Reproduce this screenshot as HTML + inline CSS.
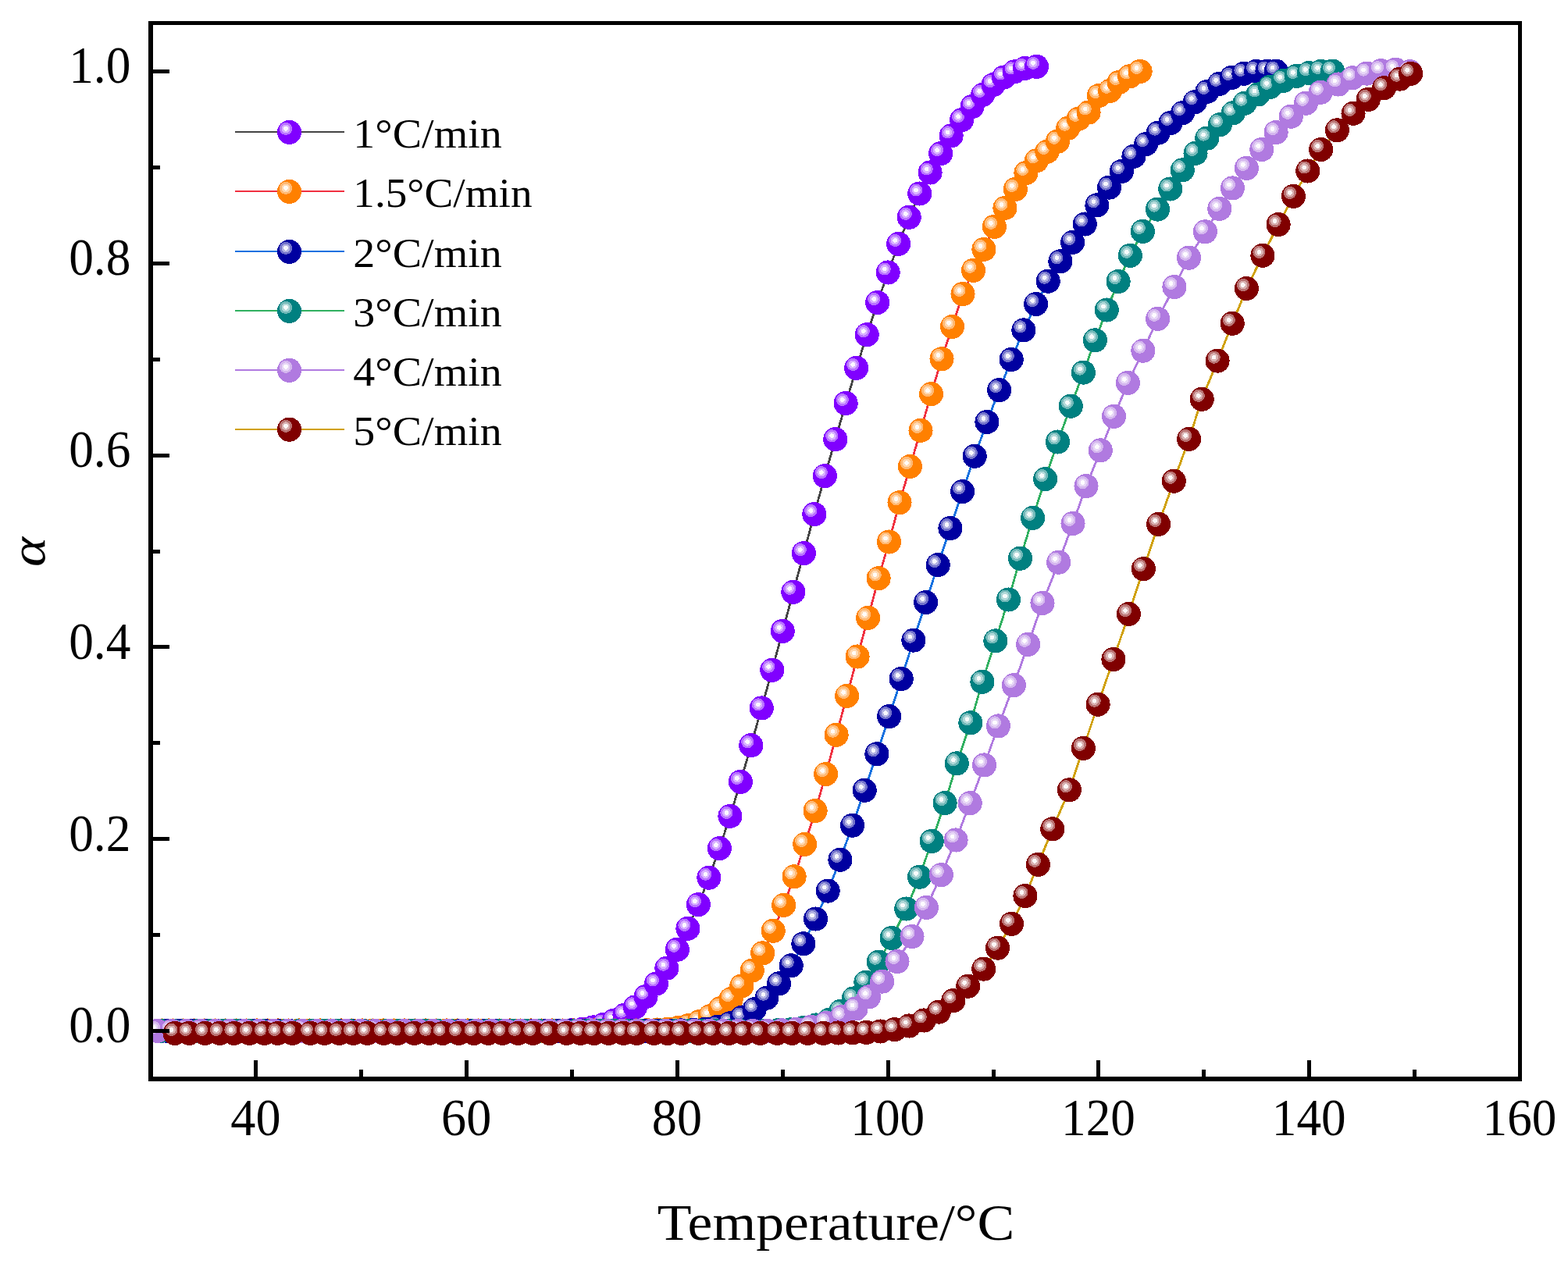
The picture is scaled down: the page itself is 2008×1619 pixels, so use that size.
<!DOCTYPE html>
<html lang="en"><head><meta charset="utf-8"><title>α vs Temperature</title>
<style>html,body{margin:0;padding:0;background:#fff}body{width:2008px;height:1619px;overflow:hidden}svg{display:block}text{font-family:"Liberation Serif","DejaVu Serif",serif;fill:#000}</style></head><body>
<svg width="2008" height="1619" viewBox="0 0 2008 1619">
<rect x="0" y="0" width="2008" height="1619" fill="#fff"/>
<defs>
<radialGradient id="g0" cx="0.3553" cy="0.3553" fx="0.3553" fy="0.3553" r="1"><stop offset="0" stop-color="#fbf7ff"/><stop offset="0.0932" stop-color="#fbf7ff"/><stop offset="0.0932" stop-color="#d9b2ff"/><stop offset="0.1736" stop-color="#d9b2ff"/><stop offset="0.1736" stop-color="#b973ff"/><stop offset="0.2572" stop-color="#b973ff"/><stop offset="0.2572" stop-color="#8000ff"/><stop offset="1" stop-color="#8000ff"/></radialGradient>
<radialGradient id="g1" cx="0.3553" cy="0.3553" fx="0.3553" fy="0.3553" r="1"><stop offset="0" stop-color="#fffbf7"/><stop offset="0.0932" stop-color="#fffbf7"/><stop offset="0.0932" stop-color="#ffd9b2"/><stop offset="0.1736" stop-color="#ffd9b2"/><stop offset="0.1736" stop-color="#ffb973"/><stop offset="0.2572" stop-color="#ffb973"/><stop offset="0.2572" stop-color="#ff8000"/><stop offset="1" stop-color="#ff8000"/></radialGradient>
<radialGradient id="g2" cx="0.3553" cy="0.3553" fx="0.3553" fy="0.3553" r="1"><stop offset="0" stop-color="#f7f7fc"/><stop offset="0.0932" stop-color="#f7f7fc"/><stop offset="0.0932" stop-color="#b2b2e2"/><stop offset="0.1736" stop-color="#b2b2e2"/><stop offset="0.1736" stop-color="#7373cb"/><stop offset="0.2572" stop-color="#7373cb"/><stop offset="0.2572" stop-color="#0000a0"/><stop offset="1" stop-color="#0000a0"/></radialGradient>
<radialGradient id="g3" cx="0.3553" cy="0.3553" fx="0.3553" fy="0.3553" r="1"><stop offset="0" stop-color="#f7fbfb"/><stop offset="0.0932" stop-color="#f7fbfb"/><stop offset="0.0932" stop-color="#b2d9d9"/><stop offset="0.1736" stop-color="#b2d9d9"/><stop offset="0.1736" stop-color="#73b9b9"/><stop offset="0.2572" stop-color="#73b9b9"/><stop offset="0.2572" stop-color="#008080"/><stop offset="1" stop-color="#008080"/></radialGradient>
<radialGradient id="g4" cx="0.3553" cy="0.3553" fx="0.3553" fy="0.3553" r="1"><stop offset="0" stop-color="#fdfbfe"/><stop offset="0.0932" stop-color="#fdfbfe"/><stop offset="0.0932" stop-color="#e7d7f6"/><stop offset="0.1736" stop-color="#e7d7f6"/><stop offset="0.1736" stop-color="#d4b6ee"/><stop offset="0.2572" stop-color="#d4b6ee"/><stop offset="0.2572" stop-color="#b07ae0"/><stop offset="1" stop-color="#b07ae0"/></radialGradient>
<radialGradient id="g5" cx="0.3553" cy="0.3553" fx="0.3553" fy="0.3553" r="1"><stop offset="0" stop-color="#fbf7f7"/><stop offset="0.0932" stop-color="#fbf7f7"/><stop offset="0.0932" stop-color="#d9b2b2"/><stop offset="0.1736" stop-color="#d9b2b2"/><stop offset="0.1736" stop-color="#b97373"/><stop offset="0.2572" stop-color="#b97373"/><stop offset="0.2572" stop-color="#800000"/><stop offset="1" stop-color="#800000"/></radialGradient>
<clipPath id="plot"><rect x="193" y="30" width="1753.5" height="1352"/></clipPath>
</defs>
<g clip-path="url(#plot)" shape-rendering="crispEdges">
<g>
<polyline fill="none" stroke="#444444" stroke-width="2.8" points="206.5,1320.4 220.0,1320.4 233.5,1320.4 247.0,1320.4 260.4,1320.4 273.9,1320.4 287.4,1320.4 300.9,1320.4 314.4,1320.4 327.9,1320.4 341.4,1320.4 354.9,1320.4 368.4,1320.4 381.8,1320.4 395.3,1320.4 408.8,1320.4 422.3,1320.4 435.8,1320.4 449.3,1320.4 462.8,1320.4 476.3,1320.4 489.7,1320.4 503.2,1320.4 516.7,1320.4 530.2,1320.4 543.7,1320.4 557.2,1320.4 570.7,1320.4 584.2,1320.4 597.7,1320.4 611.1,1320.4 624.6,1320.4 638.1,1320.4 651.6,1320.4 665.1,1320.4 678.6,1320.4 692.1,1320.4 705.6,1320.4 719.1,1320.2 732.5,1319.6 746.0,1318.3 759.5,1315.9 773.0,1312.3 786.5,1307.0 800.0,1300.1 813.5,1289.9 827.0,1276.5 840.4,1260.0 853.9,1240.1 867.4,1216.2 880.9,1189.3 894.4,1158.6 907.9,1124.2 921.4,1086.7 934.9,1045.4 948.4,1001.4 961.8,954.7 975.3,906.9 988.8,858.3 1002.3,808.3 1015.8,758.3 1029.3,708.6 1042.8,658.6 1056.3,609.6 1069.8,562.7 1083.2,516.5 1096.7,471.4 1110.2,428.7 1123.7,387.5 1137.2,349.0 1150.7,312.4 1164.2,278.3 1177.7,248.0 1191.1,221.0 1204.6,196.7 1218.1,173.9 1231.6,153.7 1245.1,136.5 1258.6,121.4 1272.1,108.6 1285.6,99.0 1299.1,91.9 1312.5,87.4 1327.5,85.3"/>
<g fill="url(#g0)">
<circle cx="206.5" cy="1320.4" r="15.55"/>
<circle cx="220.0" cy="1320.4" r="15.55"/>
<circle cx="233.5" cy="1320.4" r="15.55"/>
<circle cx="247.0" cy="1320.4" r="15.55"/>
<circle cx="260.4" cy="1320.4" r="15.55"/>
<circle cx="273.9" cy="1320.4" r="15.55"/>
<circle cx="287.4" cy="1320.4" r="15.55"/>
<circle cx="300.9" cy="1320.4" r="15.55"/>
<circle cx="314.4" cy="1320.4" r="15.55"/>
<circle cx="327.9" cy="1320.4" r="15.55"/>
<circle cx="341.4" cy="1320.4" r="15.55"/>
<circle cx="354.9" cy="1320.4" r="15.55"/>
<circle cx="368.4" cy="1320.4" r="15.55"/>
<circle cx="381.8" cy="1320.4" r="15.55"/>
<circle cx="395.3" cy="1320.4" r="15.55"/>
<circle cx="408.8" cy="1320.4" r="15.55"/>
<circle cx="422.3" cy="1320.4" r="15.55"/>
<circle cx="435.8" cy="1320.4" r="15.55"/>
<circle cx="449.3" cy="1320.4" r="15.55"/>
<circle cx="462.8" cy="1320.4" r="15.55"/>
<circle cx="476.3" cy="1320.4" r="15.55"/>
<circle cx="489.7" cy="1320.4" r="15.55"/>
<circle cx="503.2" cy="1320.4" r="15.55"/>
<circle cx="516.7" cy="1320.4" r="15.55"/>
<circle cx="530.2" cy="1320.4" r="15.55"/>
<circle cx="543.7" cy="1320.4" r="15.55"/>
<circle cx="557.2" cy="1320.4" r="15.55"/>
<circle cx="570.7" cy="1320.4" r="15.55"/>
<circle cx="584.2" cy="1320.4" r="15.55"/>
<circle cx="597.7" cy="1320.4" r="15.55"/>
<circle cx="611.1" cy="1320.4" r="15.55"/>
<circle cx="624.6" cy="1320.4" r="15.55"/>
<circle cx="638.1" cy="1320.4" r="15.55"/>
<circle cx="651.6" cy="1320.4" r="15.55"/>
<circle cx="665.1" cy="1320.4" r="15.55"/>
<circle cx="678.6" cy="1320.4" r="15.55"/>
<circle cx="692.1" cy="1320.4" r="15.55"/>
<circle cx="705.6" cy="1320.4" r="15.55"/>
<circle cx="719.1" cy="1320.2" r="15.55"/>
<circle cx="732.5" cy="1319.6" r="15.55"/>
<circle cx="746.0" cy="1318.3" r="15.55"/>
<circle cx="759.5" cy="1315.9" r="15.55"/>
<circle cx="773.0" cy="1312.3" r="15.55"/>
<circle cx="786.5" cy="1307.0" r="15.55"/>
<circle cx="800.0" cy="1300.1" r="15.55"/>
<circle cx="813.5" cy="1289.9" r="15.55"/>
<circle cx="827.0" cy="1276.5" r="15.55"/>
<circle cx="840.4" cy="1260.0" r="15.55"/>
<circle cx="853.9" cy="1240.1" r="15.55"/>
<circle cx="867.4" cy="1216.2" r="15.55"/>
<circle cx="880.9" cy="1189.3" r="15.55"/>
<circle cx="894.4" cy="1158.6" r="15.55"/>
<circle cx="907.9" cy="1124.2" r="15.55"/>
<circle cx="921.4" cy="1086.7" r="15.55"/>
<circle cx="934.9" cy="1045.4" r="15.55"/>
<circle cx="948.4" cy="1001.4" r="15.55"/>
<circle cx="961.8" cy="954.7" r="15.55"/>
<circle cx="975.3" cy="906.9" r="15.55"/>
<circle cx="988.8" cy="858.3" r="15.55"/>
<circle cx="1002.3" cy="808.3" r="15.55"/>
<circle cx="1015.8" cy="758.3" r="15.55"/>
<circle cx="1029.3" cy="708.6" r="15.55"/>
<circle cx="1042.8" cy="658.6" r="15.55"/>
<circle cx="1056.3" cy="609.6" r="15.55"/>
<circle cx="1069.8" cy="562.7" r="15.55"/>
<circle cx="1083.2" cy="516.5" r="15.55"/>
<circle cx="1096.7" cy="471.4" r="15.55"/>
<circle cx="1110.2" cy="428.7" r="15.55"/>
<circle cx="1123.7" cy="387.5" r="15.55"/>
<circle cx="1137.2" cy="349.0" r="15.55"/>
<circle cx="1150.7" cy="312.4" r="15.55"/>
<circle cx="1164.2" cy="278.3" r="15.55"/>
<circle cx="1177.7" cy="248.0" r="15.55"/>
<circle cx="1191.1" cy="221.0" r="15.55"/>
<circle cx="1204.6" cy="196.7" r="15.55"/>
<circle cx="1218.1" cy="173.9" r="15.55"/>
<circle cx="1231.6" cy="153.7" r="15.55"/>
<circle cx="1245.1" cy="136.5" r="15.55"/>
<circle cx="1258.6" cy="121.4" r="15.55"/>
<circle cx="1272.1" cy="108.6" r="15.55"/>
<circle cx="1285.6" cy="99.0" r="15.55"/>
<circle cx="1299.1" cy="91.9" r="15.55"/>
<circle cx="1312.5" cy="87.4" r="15.55"/>
<circle cx="1327.5" cy="85.3" r="15.55"/>
</g></g>
<g>
<polyline fill="none" stroke="#f03040" stroke-width="2.8" points="207.8,1320.0 221.3,1320.0 234.8,1320.0 248.3,1320.0 261.8,1320.0 275.3,1320.0 288.8,1320.0 302.3,1320.0 315.7,1320.0 329.2,1320.0 342.7,1320.0 356.2,1320.0 369.7,1320.0 383.2,1320.0 396.7,1320.0 410.2,1320.0 423.7,1320.0 437.1,1320.0 450.6,1320.0 464.1,1320.0 477.6,1320.0 491.1,1320.0 504.6,1320.0 518.1,1320.0 531.6,1320.0 545.0,1320.0 558.5,1320.0 572.0,1320.0 585.5,1320.0 599.0,1320.0 612.5,1320.0 626.0,1320.0 639.5,1320.0 653.0,1320.0 666.4,1320.0 679.9,1320.0 693.4,1320.0 706.9,1320.0 720.4,1320.0 733.9,1320.0 747.4,1320.0 760.9,1320.0 774.4,1320.0 787.8,1320.0 801.3,1320.0 814.8,1320.0 828.3,1319.6 841.8,1319.0 855.3,1318.2 868.8,1316.4 882.3,1313.3 895.8,1308.5 909.2,1301.7 922.7,1291.6 936.2,1279.6 949.7,1263.0 963.2,1243.1 976.7,1220.8 990.2,1192.3 1003.7,1159.4 1017.1,1122.8 1030.6,1081.4 1044.1,1038.5 1057.6,991.5 1071.1,941.2 1084.6,891.4 1098.1,841.0 1111.6,791.4 1125.1,740.8 1138.5,694.0 1152.0,643.7 1165.5,597.5 1179.0,551.3 1192.5,504.6 1206.0,459.7 1219.5,418.4 1233.0,376.5 1246.5,346.3 1259.9,319.4 1273.4,290.3 1286.9,266.4 1300.4,242.4 1313.9,221.5 1327.4,205.8 1340.9,194.3 1354.4,181.2 1367.8,164.2 1381.3,152.2 1394.1,144.0 1407.3,122.5 1421.6,116.3 1433.1,105.4 1446.6,97.8 1460.1,91.4"/>
<g fill="url(#g1)">
<circle cx="207.8" cy="1320.0" r="15.55"/>
<circle cx="221.3" cy="1320.0" r="15.55"/>
<circle cx="234.8" cy="1320.0" r="15.55"/>
<circle cx="248.3" cy="1320.0" r="15.55"/>
<circle cx="261.8" cy="1320.0" r="15.55"/>
<circle cx="275.3" cy="1320.0" r="15.55"/>
<circle cx="288.8" cy="1320.0" r="15.55"/>
<circle cx="302.3" cy="1320.0" r="15.55"/>
<circle cx="315.7" cy="1320.0" r="15.55"/>
<circle cx="329.2" cy="1320.0" r="15.55"/>
<circle cx="342.7" cy="1320.0" r="15.55"/>
<circle cx="356.2" cy="1320.0" r="15.55"/>
<circle cx="369.7" cy="1320.0" r="15.55"/>
<circle cx="383.2" cy="1320.0" r="15.55"/>
<circle cx="396.7" cy="1320.0" r="15.55"/>
<circle cx="410.2" cy="1320.0" r="15.55"/>
<circle cx="423.7" cy="1320.0" r="15.55"/>
<circle cx="437.1" cy="1320.0" r="15.55"/>
<circle cx="450.6" cy="1320.0" r="15.55"/>
<circle cx="464.1" cy="1320.0" r="15.55"/>
<circle cx="477.6" cy="1320.0" r="15.55"/>
<circle cx="491.1" cy="1320.0" r="15.55"/>
<circle cx="504.6" cy="1320.0" r="15.55"/>
<circle cx="518.1" cy="1320.0" r="15.55"/>
<circle cx="531.6" cy="1320.0" r="15.55"/>
<circle cx="545.0" cy="1320.0" r="15.55"/>
<circle cx="558.5" cy="1320.0" r="15.55"/>
<circle cx="572.0" cy="1320.0" r="15.55"/>
<circle cx="585.5" cy="1320.0" r="15.55"/>
<circle cx="599.0" cy="1320.0" r="15.55"/>
<circle cx="612.5" cy="1320.0" r="15.55"/>
<circle cx="626.0" cy="1320.0" r="15.55"/>
<circle cx="639.5" cy="1320.0" r="15.55"/>
<circle cx="653.0" cy="1320.0" r="15.55"/>
<circle cx="666.4" cy="1320.0" r="15.55"/>
<circle cx="679.9" cy="1320.0" r="15.55"/>
<circle cx="693.4" cy="1320.0" r="15.55"/>
<circle cx="706.9" cy="1320.0" r="15.55"/>
<circle cx="720.4" cy="1320.0" r="15.55"/>
<circle cx="733.9" cy="1320.0" r="15.55"/>
<circle cx="747.4" cy="1320.0" r="15.55"/>
<circle cx="760.9" cy="1320.0" r="15.55"/>
<circle cx="774.4" cy="1320.0" r="15.55"/>
<circle cx="787.8" cy="1320.0" r="15.55"/>
<circle cx="801.3" cy="1320.0" r="15.55"/>
<circle cx="814.8" cy="1320.0" r="15.55"/>
<circle cx="828.3" cy="1319.6" r="15.55"/>
<circle cx="841.8" cy="1319.0" r="15.55"/>
<circle cx="855.3" cy="1318.2" r="15.55"/>
<circle cx="868.8" cy="1316.4" r="15.55"/>
<circle cx="882.3" cy="1313.3" r="15.55"/>
<circle cx="895.8" cy="1308.5" r="15.55"/>
<circle cx="909.2" cy="1301.7" r="15.55"/>
<circle cx="922.7" cy="1291.6" r="15.55"/>
<circle cx="936.2" cy="1279.6" r="15.55"/>
<circle cx="949.7" cy="1263.0" r="15.55"/>
<circle cx="963.2" cy="1243.1" r="15.55"/>
<circle cx="976.7" cy="1220.8" r="15.55"/>
<circle cx="990.2" cy="1192.3" r="15.55"/>
<circle cx="1003.7" cy="1159.4" r="15.55"/>
<circle cx="1017.1" cy="1122.8" r="15.55"/>
<circle cx="1030.6" cy="1081.4" r="15.55"/>
<circle cx="1044.1" cy="1038.5" r="15.55"/>
<circle cx="1057.6" cy="991.5" r="15.55"/>
<circle cx="1071.1" cy="941.2" r="15.55"/>
<circle cx="1084.6" cy="891.4" r="15.55"/>
<circle cx="1098.1" cy="841.0" r="15.55"/>
<circle cx="1111.6" cy="791.4" r="15.55"/>
<circle cx="1125.1" cy="740.8" r="15.55"/>
<circle cx="1138.5" cy="694.0" r="15.55"/>
<circle cx="1152.0" cy="643.7" r="15.55"/>
<circle cx="1165.5" cy="597.5" r="15.55"/>
<circle cx="1179.0" cy="551.3" r="15.55"/>
<circle cx="1192.5" cy="504.6" r="15.55"/>
<circle cx="1206.0" cy="459.7" r="15.55"/>
<circle cx="1219.5" cy="418.4" r="15.55"/>
<circle cx="1233.0" cy="376.5" r="15.55"/>
<circle cx="1246.5" cy="346.3" r="15.55"/>
<circle cx="1259.9" cy="319.4" r="15.55"/>
<circle cx="1273.4" cy="290.3" r="15.55"/>
<circle cx="1286.9" cy="266.4" r="15.55"/>
<circle cx="1300.4" cy="242.4" r="15.55"/>
<circle cx="1313.9" cy="221.5" r="15.55"/>
<circle cx="1327.4" cy="205.8" r="15.55"/>
<circle cx="1340.9" cy="194.3" r="15.55"/>
<circle cx="1354.4" cy="181.2" r="15.55"/>
<circle cx="1367.8" cy="164.2" r="15.55"/>
<circle cx="1381.3" cy="152.2" r="15.55"/>
<circle cx="1394.1" cy="144.0" r="15.55"/>
<circle cx="1407.3" cy="122.5" r="15.55"/>
<circle cx="1421.6" cy="116.3" r="15.55"/>
<circle cx="1433.1" cy="105.4" r="15.55"/>
<circle cx="1446.6" cy="97.8" r="15.55"/>
<circle cx="1460.1" cy="91.4" r="15.55"/>
</g></g>
<g>
<polyline fill="none" stroke="#1070e0" stroke-width="2.8" points="214.2,1320.3 229.8,1320.3 245.5,1320.3 261.2,1320.3 276.8,1320.3 292.5,1320.3 308.2,1320.3 323.8,1320.3 339.5,1320.3 355.2,1320.3 370.8,1320.3 386.5,1320.3 402.2,1320.3 417.8,1320.3 433.5,1320.3 449.2,1320.3 464.8,1320.3 480.5,1320.3 496.2,1320.3 511.8,1320.3 527.5,1320.3 543.2,1320.3 558.8,1320.3 574.5,1320.3 590.2,1320.3 605.9,1320.3 621.5,1320.3 637.2,1320.3 652.9,1320.3 668.5,1320.3 684.2,1320.3 699.9,1320.3 715.5,1320.3 731.2,1320.3 746.9,1320.3 762.5,1320.3 778.2,1320.3 793.9,1320.3 809.5,1320.3 825.2,1320.3 840.9,1320.3 856.5,1320.2 872.2,1319.9 887.9,1319.3 903.5,1318.1 919.2,1315.1 934.9,1310.7 950.5,1303.0 966.2,1292.8 981.9,1278.2 997.6,1259.8 1013.2,1236.8 1028.9,1208.8 1044.6,1177.0 1060.2,1141.1 1075.9,1101.3 1091.6,1057.2 1107.2,1012.3 1122.9,965.7 1138.6,917.7 1154.2,869.5 1169.9,820.1 1185.6,771.5 1201.2,723.6 1216.9,676.6 1232.6,629.6 1248.2,584.3 1263.9,540.5 1279.6,499.7 1295.2,460.5 1310.9,422.9 1326.6,389.5 1342.2,360.2 1357.9,334.7 1373.6,310.4 1389.3,287.0 1404.9,262.8 1420.6,240.1 1436.3,219.5 1451.9,200.3 1467.6,184.5 1483.3,170.1 1498.9,157.5 1514.6,144.5 1530.3,130.6 1545.9,117.4 1561.6,107.3 1577.3,99.4 1592.9,94.3 1608.6,91.4 1623.0,91.1 1634.1,91.1"/>
<g fill="url(#g2)">
<circle cx="214.2" cy="1320.3" r="15.55"/>
<circle cx="229.8" cy="1320.3" r="15.55"/>
<circle cx="245.5" cy="1320.3" r="15.55"/>
<circle cx="261.2" cy="1320.3" r="15.55"/>
<circle cx="276.8" cy="1320.3" r="15.55"/>
<circle cx="292.5" cy="1320.3" r="15.55"/>
<circle cx="308.2" cy="1320.3" r="15.55"/>
<circle cx="323.8" cy="1320.3" r="15.55"/>
<circle cx="339.5" cy="1320.3" r="15.55"/>
<circle cx="355.2" cy="1320.3" r="15.55"/>
<circle cx="370.8" cy="1320.3" r="15.55"/>
<circle cx="386.5" cy="1320.3" r="15.55"/>
<circle cx="402.2" cy="1320.3" r="15.55"/>
<circle cx="417.8" cy="1320.3" r="15.55"/>
<circle cx="433.5" cy="1320.3" r="15.55"/>
<circle cx="449.2" cy="1320.3" r="15.55"/>
<circle cx="464.8" cy="1320.3" r="15.55"/>
<circle cx="480.5" cy="1320.3" r="15.55"/>
<circle cx="496.2" cy="1320.3" r="15.55"/>
<circle cx="511.8" cy="1320.3" r="15.55"/>
<circle cx="527.5" cy="1320.3" r="15.55"/>
<circle cx="543.2" cy="1320.3" r="15.55"/>
<circle cx="558.8" cy="1320.3" r="15.55"/>
<circle cx="574.5" cy="1320.3" r="15.55"/>
<circle cx="590.2" cy="1320.3" r="15.55"/>
<circle cx="605.9" cy="1320.3" r="15.55"/>
<circle cx="621.5" cy="1320.3" r="15.55"/>
<circle cx="637.2" cy="1320.3" r="15.55"/>
<circle cx="652.9" cy="1320.3" r="15.55"/>
<circle cx="668.5" cy="1320.3" r="15.55"/>
<circle cx="684.2" cy="1320.3" r="15.55"/>
<circle cx="699.9" cy="1320.3" r="15.55"/>
<circle cx="715.5" cy="1320.3" r="15.55"/>
<circle cx="731.2" cy="1320.3" r="15.55"/>
<circle cx="746.9" cy="1320.3" r="15.55"/>
<circle cx="762.5" cy="1320.3" r="15.55"/>
<circle cx="778.2" cy="1320.3" r="15.55"/>
<circle cx="793.9" cy="1320.3" r="15.55"/>
<circle cx="809.5" cy="1320.3" r="15.55"/>
<circle cx="825.2" cy="1320.3" r="15.55"/>
<circle cx="840.9" cy="1320.3" r="15.55"/>
<circle cx="856.5" cy="1320.2" r="15.55"/>
<circle cx="872.2" cy="1319.9" r="15.55"/>
<circle cx="887.9" cy="1319.3" r="15.55"/>
<circle cx="903.5" cy="1318.1" r="15.55"/>
<circle cx="919.2" cy="1315.1" r="15.55"/>
<circle cx="934.9" cy="1310.7" r="15.55"/>
<circle cx="950.5" cy="1303.0" r="15.55"/>
<circle cx="966.2" cy="1292.8" r="15.55"/>
<circle cx="981.9" cy="1278.2" r="15.55"/>
<circle cx="997.6" cy="1259.8" r="15.55"/>
<circle cx="1013.2" cy="1236.8" r="15.55"/>
<circle cx="1028.9" cy="1208.8" r="15.55"/>
<circle cx="1044.6" cy="1177.0" r="15.55"/>
<circle cx="1060.2" cy="1141.1" r="15.55"/>
<circle cx="1075.9" cy="1101.3" r="15.55"/>
<circle cx="1091.6" cy="1057.2" r="15.55"/>
<circle cx="1107.2" cy="1012.3" r="15.55"/>
<circle cx="1122.9" cy="965.7" r="15.55"/>
<circle cx="1138.6" cy="917.7" r="15.55"/>
<circle cx="1154.2" cy="869.5" r="15.55"/>
<circle cx="1169.9" cy="820.1" r="15.55"/>
<circle cx="1185.6" cy="771.5" r="15.55"/>
<circle cx="1201.2" cy="723.6" r="15.55"/>
<circle cx="1216.9" cy="676.6" r="15.55"/>
<circle cx="1232.6" cy="629.6" r="15.55"/>
<circle cx="1248.2" cy="584.3" r="15.55"/>
<circle cx="1263.9" cy="540.5" r="15.55"/>
<circle cx="1279.6" cy="499.7" r="15.55"/>
<circle cx="1295.2" cy="460.5" r="15.55"/>
<circle cx="1310.9" cy="422.9" r="15.55"/>
<circle cx="1326.6" cy="389.5" r="15.55"/>
<circle cx="1342.2" cy="360.2" r="15.55"/>
<circle cx="1357.9" cy="334.7" r="15.55"/>
<circle cx="1373.6" cy="310.4" r="15.55"/>
<circle cx="1389.3" cy="287.0" r="15.55"/>
<circle cx="1404.9" cy="262.8" r="15.55"/>
<circle cx="1420.6" cy="240.1" r="15.55"/>
<circle cx="1436.3" cy="219.5" r="15.55"/>
<circle cx="1451.9" cy="200.3" r="15.55"/>
<circle cx="1467.6" cy="184.5" r="15.55"/>
<circle cx="1483.3" cy="170.1" r="15.55"/>
<circle cx="1498.9" cy="157.5" r="15.55"/>
<circle cx="1514.6" cy="144.5" r="15.55"/>
<circle cx="1530.3" cy="130.6" r="15.55"/>
<circle cx="1545.9" cy="117.4" r="15.55"/>
<circle cx="1561.6" cy="107.3" r="15.55"/>
<circle cx="1577.3" cy="99.4" r="15.55"/>
<circle cx="1592.9" cy="94.3" r="15.55"/>
<circle cx="1608.6" cy="91.4" r="15.55"/>
<circle cx="1623.0" cy="91.1" r="15.55"/>
<circle cx="1634.1" cy="91.1" r="15.55"/>
</g></g>
<g>
<polyline fill="none" stroke="#30b060" stroke-width="2.8" points="205.5,1320.4 221.6,1320.4 237.8,1320.4 253.9,1320.4 270.0,1320.4 286.2,1320.4 302.3,1320.4 318.4,1320.4 334.5,1320.4 350.7,1320.4 366.8,1320.4 382.9,1320.4 399.1,1320.4 415.2,1320.4 431.3,1320.4 447.5,1320.4 463.6,1320.4 479.7,1320.4 495.8,1320.4 512.0,1320.4 528.1,1320.4 544.2,1320.4 560.4,1320.4 576.5,1320.4 592.6,1320.4 608.8,1320.4 624.9,1320.4 641.0,1320.4 657.1,1320.4 673.3,1320.4 689.4,1320.4 705.5,1320.4 721.7,1320.4 737.8,1320.4 753.9,1320.4 770.0,1320.4 786.2,1320.4 802.3,1320.4 818.4,1320.4 834.6,1320.4 850.7,1320.4 866.8,1320.4 883.0,1320.4 899.1,1320.4 915.2,1320.4 931.4,1320.4 947.5,1320.4 963.6,1320.4 979.7,1320.2 995.9,1319.8 1012.0,1318.9 1028.6,1316.6 1045.2,1313.0 1061.8,1306.4 1076.7,1295.2 1093.1,1279.0 1108.9,1258.2 1125.2,1232.1 1142.1,1201.5 1160.7,1164.0 1177.6,1123.2 1193.2,1077.4 1210.1,1028.6 1225.3,977.8 1242.9,925.8 1257.9,873.3 1274.9,820.9 1291.4,768.0 1306.5,715.2 1322.6,663.4 1338.6,613.6 1354.5,566.0 1371.3,520.2 1387.4,477.1 1402.4,435.8 1417.3,397.0 1432.1,360.6 1447.3,327.3 1463.3,296.4 1482.5,268.1 1498.7,242.0 1514.3,217.8 1531.0,196.3 1545.7,177.1 1562.4,159.6 1579.2,144.8 1594.0,132.2 1611.0,121.0 1626.5,111.3 1643.7,103.3 1660.4,97.4 1676.4,93.5 1691.6,91.4 1706.5,91.2"/>
<g fill="url(#g3)">
<circle cx="205.5" cy="1320.4" r="15.55"/>
<circle cx="221.6" cy="1320.4" r="15.55"/>
<circle cx="237.8" cy="1320.4" r="15.55"/>
<circle cx="253.9" cy="1320.4" r="15.55"/>
<circle cx="270.0" cy="1320.4" r="15.55"/>
<circle cx="286.2" cy="1320.4" r="15.55"/>
<circle cx="302.3" cy="1320.4" r="15.55"/>
<circle cx="318.4" cy="1320.4" r="15.55"/>
<circle cx="334.5" cy="1320.4" r="15.55"/>
<circle cx="350.7" cy="1320.4" r="15.55"/>
<circle cx="366.8" cy="1320.4" r="15.55"/>
<circle cx="382.9" cy="1320.4" r="15.55"/>
<circle cx="399.1" cy="1320.4" r="15.55"/>
<circle cx="415.2" cy="1320.4" r="15.55"/>
<circle cx="431.3" cy="1320.4" r="15.55"/>
<circle cx="447.5" cy="1320.4" r="15.55"/>
<circle cx="463.6" cy="1320.4" r="15.55"/>
<circle cx="479.7" cy="1320.4" r="15.55"/>
<circle cx="495.8" cy="1320.4" r="15.55"/>
<circle cx="512.0" cy="1320.4" r="15.55"/>
<circle cx="528.1" cy="1320.4" r="15.55"/>
<circle cx="544.2" cy="1320.4" r="15.55"/>
<circle cx="560.4" cy="1320.4" r="15.55"/>
<circle cx="576.5" cy="1320.4" r="15.55"/>
<circle cx="592.6" cy="1320.4" r="15.55"/>
<circle cx="608.8" cy="1320.4" r="15.55"/>
<circle cx="624.9" cy="1320.4" r="15.55"/>
<circle cx="641.0" cy="1320.4" r="15.55"/>
<circle cx="657.1" cy="1320.4" r="15.55"/>
<circle cx="673.3" cy="1320.4" r="15.55"/>
<circle cx="689.4" cy="1320.4" r="15.55"/>
<circle cx="705.5" cy="1320.4" r="15.55"/>
<circle cx="721.7" cy="1320.4" r="15.55"/>
<circle cx="737.8" cy="1320.4" r="15.55"/>
<circle cx="753.9" cy="1320.4" r="15.55"/>
<circle cx="770.0" cy="1320.4" r="15.55"/>
<circle cx="786.2" cy="1320.4" r="15.55"/>
<circle cx="802.3" cy="1320.4" r="15.55"/>
<circle cx="818.4" cy="1320.4" r="15.55"/>
<circle cx="834.6" cy="1320.4" r="15.55"/>
<circle cx="850.7" cy="1320.4" r="15.55"/>
<circle cx="866.8" cy="1320.4" r="15.55"/>
<circle cx="883.0" cy="1320.4" r="15.55"/>
<circle cx="899.1" cy="1320.4" r="15.55"/>
<circle cx="915.2" cy="1320.4" r="15.55"/>
<circle cx="931.4" cy="1320.4" r="15.55"/>
<circle cx="947.5" cy="1320.4" r="15.55"/>
<circle cx="963.6" cy="1320.4" r="15.55"/>
<circle cx="979.7" cy="1320.2" r="15.55"/>
<circle cx="995.9" cy="1319.8" r="15.55"/>
<circle cx="1012.0" cy="1318.9" r="15.55"/>
<circle cx="1028.6" cy="1316.6" r="15.55"/>
<circle cx="1045.2" cy="1313.0" r="15.55"/>
<circle cx="1061.8" cy="1306.4" r="15.55"/>
<circle cx="1076.7" cy="1295.2" r="15.55"/>
<circle cx="1093.1" cy="1279.0" r="15.55"/>
<circle cx="1108.9" cy="1258.2" r="15.55"/>
<circle cx="1125.2" cy="1232.1" r="15.55"/>
<circle cx="1142.1" cy="1201.5" r="15.55"/>
<circle cx="1160.7" cy="1164.0" r="15.55"/>
<circle cx="1177.6" cy="1123.2" r="15.55"/>
<circle cx="1193.2" cy="1077.4" r="15.55"/>
<circle cx="1210.1" cy="1028.6" r="15.55"/>
<circle cx="1225.3" cy="977.8" r="15.55"/>
<circle cx="1242.9" cy="925.8" r="15.55"/>
<circle cx="1257.9" cy="873.3" r="15.55"/>
<circle cx="1274.9" cy="820.9" r="15.55"/>
<circle cx="1291.4" cy="768.0" r="15.55"/>
<circle cx="1306.5" cy="715.2" r="15.55"/>
<circle cx="1322.6" cy="663.4" r="15.55"/>
<circle cx="1338.6" cy="613.6" r="15.55"/>
<circle cx="1354.5" cy="566.0" r="15.55"/>
<circle cx="1371.3" cy="520.2" r="15.55"/>
<circle cx="1387.4" cy="477.1" r="15.55"/>
<circle cx="1402.4" cy="435.8" r="15.55"/>
<circle cx="1417.3" cy="397.0" r="15.55"/>
<circle cx="1432.1" cy="360.6" r="15.55"/>
<circle cx="1447.3" cy="327.3" r="15.55"/>
<circle cx="1463.3" cy="296.4" r="15.55"/>
<circle cx="1482.5" cy="268.1" r="15.55"/>
<circle cx="1498.7" cy="242.0" r="15.55"/>
<circle cx="1514.3" cy="217.8" r="15.55"/>
<circle cx="1531.0" cy="196.3" r="15.55"/>
<circle cx="1545.7" cy="177.1" r="15.55"/>
<circle cx="1562.4" cy="159.6" r="15.55"/>
<circle cx="1579.2" cy="144.8" r="15.55"/>
<circle cx="1594.0" cy="132.2" r="15.55"/>
<circle cx="1611.0" cy="121.0" r="15.55"/>
<circle cx="1626.5" cy="111.3" r="15.55"/>
<circle cx="1643.7" cy="103.3" r="15.55"/>
<circle cx="1660.4" cy="97.4" r="15.55"/>
<circle cx="1676.4" cy="93.5" r="15.55"/>
<circle cx="1691.6" cy="91.4" r="15.55"/>
<circle cx="1706.5" cy="91.2" r="15.55"/>
</g></g>
<g>
<polyline fill="none" stroke="#b07ae0" stroke-width="2.8" points="201.4,1320.4 220.0,1320.4 238.6,1320.4 257.2,1320.4 275.8,1320.4 294.4,1320.4 313.0,1320.4 331.6,1320.4 350.2,1320.4 368.8,1320.4 387.4,1320.4 406.0,1320.4 424.6,1320.4 443.2,1320.4 461.8,1320.4 480.4,1320.4 499.0,1320.4 517.6,1320.4 536.2,1320.4 554.8,1320.4 573.4,1320.4 592.0,1320.4 610.6,1320.4 629.2,1320.4 647.8,1320.4 666.4,1320.4 685.0,1320.4 703.6,1320.4 722.2,1320.4 740.8,1320.4 759.4,1320.4 778.0,1320.4 796.6,1320.4 815.2,1320.4 833.8,1320.4 852.4,1320.4 871.0,1320.4 889.6,1320.4 908.2,1320.4 926.8,1320.4 945.4,1320.4 964.0,1320.4 982.6,1320.3 1001.2,1319.8 1019.8,1318.3 1038.6,1315.3 1058.5,1310.3 1078.4,1302.3 1096.0,1292.0 1112.6,1276.8 1129.7,1257.2 1149.0,1231.5 1168.0,1199.5 1186.4,1162.4 1205.3,1120.6 1224.1,1076.0 1242.2,1028.7 1260.5,979.9 1278.4,929.9 1298.3,877.7 1316.6,825.3 1335.0,772.4 1355.7,720.2 1374.0,670.4 1391.0,622.6 1409.3,576.8 1426.5,533.3 1444.4,490.4 1463.9,449.2 1482.6,408.3 1503.9,367.5 1522.5,330.2 1543.4,296.8 1561.8,267.4 1578.4,240.9 1596.4,215.4 1615.8,191.5 1634.1,169.6 1653.3,149.2 1672.4,132.2 1691.2,118.3 1713.9,108.0 1732.2,99.8 1750.5,94.1 1768.5,90.6 1787.3,89.2 1805.7,91.7"/>
<g fill="url(#g4)">
<circle cx="201.4" cy="1320.4" r="15.55"/>
<circle cx="220.0" cy="1320.4" r="15.55"/>
<circle cx="238.6" cy="1320.4" r="15.55"/>
<circle cx="257.2" cy="1320.4" r="15.55"/>
<circle cx="275.8" cy="1320.4" r="15.55"/>
<circle cx="294.4" cy="1320.4" r="15.55"/>
<circle cx="313.0" cy="1320.4" r="15.55"/>
<circle cx="331.6" cy="1320.4" r="15.55"/>
<circle cx="350.2" cy="1320.4" r="15.55"/>
<circle cx="368.8" cy="1320.4" r="15.55"/>
<circle cx="387.4" cy="1320.4" r="15.55"/>
<circle cx="406.0" cy="1320.4" r="15.55"/>
<circle cx="424.6" cy="1320.4" r="15.55"/>
<circle cx="443.2" cy="1320.4" r="15.55"/>
<circle cx="461.8" cy="1320.4" r="15.55"/>
<circle cx="480.4" cy="1320.4" r="15.55"/>
<circle cx="499.0" cy="1320.4" r="15.55"/>
<circle cx="517.6" cy="1320.4" r="15.55"/>
<circle cx="536.2" cy="1320.4" r="15.55"/>
<circle cx="554.8" cy="1320.4" r="15.55"/>
<circle cx="573.4" cy="1320.4" r="15.55"/>
<circle cx="592.0" cy="1320.4" r="15.55"/>
<circle cx="610.6" cy="1320.4" r="15.55"/>
<circle cx="629.2" cy="1320.4" r="15.55"/>
<circle cx="647.8" cy="1320.4" r="15.55"/>
<circle cx="666.4" cy="1320.4" r="15.55"/>
<circle cx="685.0" cy="1320.4" r="15.55"/>
<circle cx="703.6" cy="1320.4" r="15.55"/>
<circle cx="722.2" cy="1320.4" r="15.55"/>
<circle cx="740.8" cy="1320.4" r="15.55"/>
<circle cx="759.4" cy="1320.4" r="15.55"/>
<circle cx="778.0" cy="1320.4" r="15.55"/>
<circle cx="796.6" cy="1320.4" r="15.55"/>
<circle cx="815.2" cy="1320.4" r="15.55"/>
<circle cx="833.8" cy="1320.4" r="15.55"/>
<circle cx="852.4" cy="1320.4" r="15.55"/>
<circle cx="871.0" cy="1320.4" r="15.55"/>
<circle cx="889.6" cy="1320.4" r="15.55"/>
<circle cx="908.2" cy="1320.4" r="15.55"/>
<circle cx="926.8" cy="1320.4" r="15.55"/>
<circle cx="945.4" cy="1320.4" r="15.55"/>
<circle cx="964.0" cy="1320.4" r="15.55"/>
<circle cx="982.6" cy="1320.3" r="15.55"/>
<circle cx="1001.2" cy="1319.8" r="15.55"/>
<circle cx="1019.8" cy="1318.3" r="15.55"/>
<circle cx="1038.6" cy="1315.3" r="15.55"/>
<circle cx="1058.5" cy="1310.3" r="15.55"/>
<circle cx="1078.4" cy="1302.3" r="15.55"/>
<circle cx="1096.0" cy="1292.0" r="15.55"/>
<circle cx="1112.6" cy="1276.8" r="15.55"/>
<circle cx="1129.7" cy="1257.2" r="15.55"/>
<circle cx="1149.0" cy="1231.5" r="15.55"/>
<circle cx="1168.0" cy="1199.5" r="15.55"/>
<circle cx="1186.4" cy="1162.4" r="15.55"/>
<circle cx="1205.3" cy="1120.6" r="15.55"/>
<circle cx="1224.1" cy="1076.0" r="15.55"/>
<circle cx="1242.2" cy="1028.7" r="15.55"/>
<circle cx="1260.5" cy="979.9" r="15.55"/>
<circle cx="1278.4" cy="929.9" r="15.55"/>
<circle cx="1298.3" cy="877.7" r="15.55"/>
<circle cx="1316.6" cy="825.3" r="15.55"/>
<circle cx="1335.0" cy="772.4" r="15.55"/>
<circle cx="1355.7" cy="720.2" r="15.55"/>
<circle cx="1374.0" cy="670.4" r="15.55"/>
<circle cx="1391.0" cy="622.6" r="15.55"/>
<circle cx="1409.3" cy="576.8" r="15.55"/>
<circle cx="1426.5" cy="533.3" r="15.55"/>
<circle cx="1444.4" cy="490.4" r="15.55"/>
<circle cx="1463.9" cy="449.2" r="15.55"/>
<circle cx="1482.6" cy="408.3" r="15.55"/>
<circle cx="1503.9" cy="367.5" r="15.55"/>
<circle cx="1522.5" cy="330.2" r="15.55"/>
<circle cx="1543.4" cy="296.8" r="15.55"/>
<circle cx="1561.8" cy="267.4" r="15.55"/>
<circle cx="1578.4" cy="240.9" r="15.55"/>
<circle cx="1596.4" cy="215.4" r="15.55"/>
<circle cx="1615.8" cy="191.5" r="15.55"/>
<circle cx="1634.1" cy="169.6" r="15.55"/>
<circle cx="1653.3" cy="149.2" r="15.55"/>
<circle cx="1672.4" cy="132.2" r="15.55"/>
<circle cx="1691.2" cy="118.3" r="15.55"/>
<circle cx="1713.9" cy="108.0" r="15.55"/>
<circle cx="1732.2" cy="99.8" r="15.55"/>
<circle cx="1750.5" cy="94.1" r="15.55"/>
<circle cx="1768.5" cy="90.6" r="15.55"/>
<circle cx="1787.3" cy="89.2" r="15.55"/>
<circle cx="1805.7" cy="91.7" r="15.55"/>
</g></g>
<g>
<polyline fill="none" stroke="#d0a000" stroke-width="2.8" points="224.0,1323.4 242.1,1323.4 262.6,1323.4 281.4,1323.4 299.9,1323.4 319.4,1323.4 338.3,1323.4 355.9,1323.4 374.8,1323.4 397.7,1323.4 415.6,1323.4 434.5,1323.4 452.5,1323.4 470.4,1323.4 491.3,1323.4 509.6,1323.4 530.2,1323.4 549.5,1323.4 567.0,1323.4 587.3,1323.4 607.0,1323.4 625.1,1323.4 643.8,1323.4 663.5,1323.4 682.7,1323.4 704.0,1323.4 725.9,1323.4 743.8,1323.4 760.8,1323.4 779.7,1323.4 798.2,1323.4 815.5,1323.4 837.5,1323.4 855.0,1323.4 872.7,1323.4 894.2,1323.4 913.1,1323.4 933.7,1323.4 953.1,1323.4 973.5,1323.4 995.1,1323.4 1014.1,1323.4 1034.5,1323.4 1054.7,1323.4 1073.2,1323.0 1092.0,1322.8 1109.5,1322.3 1127.3,1321.0 1145.7,1318.6 1164.2,1314.0 1183.2,1307.0 1202.3,1296.1 1220.8,1281.6 1239.7,1263.2 1259.7,1241.1 1277.6,1214.2 1295.5,1183.3 1312.9,1147.5 1329.4,1107.3 1347.8,1061.8 1369.4,1011.8 1387.4,958.4 1406.1,902.2 1425.9,844.5 1445.5,786.5 1464.3,728.6 1483.6,671.4 1503.3,616.2 1522.6,562.4 1539.2,511.3 1559.1,462.1 1578.2,414.3 1596.4,369.5 1616.9,327.3 1637.1,287.6 1656.4,251.4 1674.8,219.0 1691.7,191.5 1712.4,166.8 1733.0,145.3 1752.2,127.4 1772.5,112.6 1792.9,101.1 1806.7,94.3"/>
<g fill="url(#g5)">
<circle cx="224.0" cy="1323.4" r="15.55"/>
<circle cx="242.1" cy="1323.4" r="15.55"/>
<circle cx="262.6" cy="1323.4" r="15.55"/>
<circle cx="281.4" cy="1323.4" r="15.55"/>
<circle cx="299.9" cy="1323.4" r="15.55"/>
<circle cx="319.4" cy="1323.4" r="15.55"/>
<circle cx="338.3" cy="1323.4" r="15.55"/>
<circle cx="355.9" cy="1323.4" r="15.55"/>
<circle cx="374.8" cy="1323.4" r="15.55"/>
<circle cx="397.7" cy="1323.4" r="15.55"/>
<circle cx="415.6" cy="1323.4" r="15.55"/>
<circle cx="434.5" cy="1323.4" r="15.55"/>
<circle cx="452.5" cy="1323.4" r="15.55"/>
<circle cx="470.4" cy="1323.4" r="15.55"/>
<circle cx="491.3" cy="1323.4" r="15.55"/>
<circle cx="509.6" cy="1323.4" r="15.55"/>
<circle cx="530.2" cy="1323.4" r="15.55"/>
<circle cx="549.5" cy="1323.4" r="15.55"/>
<circle cx="567.0" cy="1323.4" r="15.55"/>
<circle cx="587.3" cy="1323.4" r="15.55"/>
<circle cx="607.0" cy="1323.4" r="15.55"/>
<circle cx="625.1" cy="1323.4" r="15.55"/>
<circle cx="643.8" cy="1323.4" r="15.55"/>
<circle cx="663.5" cy="1323.4" r="15.55"/>
<circle cx="682.7" cy="1323.4" r="15.55"/>
<circle cx="704.0" cy="1323.4" r="15.55"/>
<circle cx="725.9" cy="1323.4" r="15.55"/>
<circle cx="743.8" cy="1323.4" r="15.55"/>
<circle cx="760.8" cy="1323.4" r="15.55"/>
<circle cx="779.7" cy="1323.4" r="15.55"/>
<circle cx="798.2" cy="1323.4" r="15.55"/>
<circle cx="815.5" cy="1323.4" r="15.55"/>
<circle cx="837.5" cy="1323.4" r="15.55"/>
<circle cx="855.0" cy="1323.4" r="15.55"/>
<circle cx="872.7" cy="1323.4" r="15.55"/>
<circle cx="894.2" cy="1323.4" r="15.55"/>
<circle cx="913.1" cy="1323.4" r="15.55"/>
<circle cx="933.7" cy="1323.4" r="15.55"/>
<circle cx="953.1" cy="1323.4" r="15.55"/>
<circle cx="973.5" cy="1323.4" r="15.55"/>
<circle cx="995.1" cy="1323.4" r="15.55"/>
<circle cx="1014.1" cy="1323.4" r="15.55"/>
<circle cx="1034.5" cy="1323.4" r="15.55"/>
<circle cx="1054.7" cy="1323.4" r="15.55"/>
<circle cx="1073.2" cy="1323.0" r="15.55"/>
<circle cx="1092.0" cy="1322.8" r="15.55"/>
<circle cx="1109.5" cy="1322.3" r="15.55"/>
<circle cx="1127.3" cy="1321.0" r="15.55"/>
<circle cx="1145.7" cy="1318.6" r="15.55"/>
<circle cx="1164.2" cy="1314.0" r="15.55"/>
<circle cx="1183.2" cy="1307.0" r="15.55"/>
<circle cx="1202.3" cy="1296.1" r="15.55"/>
<circle cx="1220.8" cy="1281.6" r="15.55"/>
<circle cx="1239.7" cy="1263.2" r="15.55"/>
<circle cx="1259.7" cy="1241.1" r="15.55"/>
<circle cx="1277.6" cy="1214.2" r="15.55"/>
<circle cx="1295.5" cy="1183.3" r="15.55"/>
<circle cx="1312.9" cy="1147.5" r="15.55"/>
<circle cx="1329.4" cy="1107.3" r="15.55"/>
<circle cx="1347.8" cy="1061.8" r="15.55"/>
<circle cx="1369.4" cy="1011.8" r="15.55"/>
<circle cx="1387.4" cy="958.4" r="15.55"/>
<circle cx="1406.1" cy="902.2" r="15.55"/>
<circle cx="1425.9" cy="844.5" r="15.55"/>
<circle cx="1445.5" cy="786.5" r="15.55"/>
<circle cx="1464.3" cy="728.6" r="15.55"/>
<circle cx="1483.6" cy="671.4" r="15.55"/>
<circle cx="1503.3" cy="616.2" r="15.55"/>
<circle cx="1522.6" cy="562.4" r="15.55"/>
<circle cx="1539.2" cy="511.3" r="15.55"/>
<circle cx="1559.1" cy="462.1" r="15.55"/>
<circle cx="1578.2" cy="414.3" r="15.55"/>
<circle cx="1596.4" cy="369.5" r="15.55"/>
<circle cx="1616.9" cy="327.3" r="15.55"/>
<circle cx="1637.1" cy="287.6" r="15.55"/>
<circle cx="1656.4" cy="251.4" r="15.55"/>
<circle cx="1674.8" cy="219.0" r="15.55"/>
<circle cx="1691.7" cy="191.5" r="15.55"/>
<circle cx="1712.4" cy="166.8" r="15.55"/>
<circle cx="1733.0" cy="145.3" r="15.55"/>
<circle cx="1752.2" cy="127.4" r="15.55"/>
<circle cx="1772.5" cy="112.6" r="15.55"/>
<circle cx="1792.9" cy="101.1" r="15.55"/>
<circle cx="1806.7" cy="94.3" r="15.55"/>
</g></g>
</g>
<g fill="#000" shape-rendering="crispEdges">
<rect x="190" y="27" width="6" height="1358"/>
<rect x="190" y="27" width="1759" height="5"/>
<rect x="1944" y="27" width="5" height="1358"/>
<rect x="190" y="1379" width="1759" height="6"/>
<rect x="196" y="1318" width="21" height="5"/>
<rect x="196" y="1195" width="9" height="5"/>
<rect x="196" y="1072" width="21" height="5"/>
<rect x="196" y="949" width="9" height="5"/>
<rect x="196" y="826" width="21" height="5"/>
<rect x="196" y="704" width="9" height="5"/>
<rect x="196" y="581" width="21" height="5"/>
<rect x="196" y="458" width="9" height="5"/>
<rect x="196" y="335" width="21" height="5"/>
<rect x="196" y="212" width="9" height="5"/>
<rect x="196" y="89" width="21" height="5"/>
<rect x="325" y="1358" width="5" height="21"/>
<rect x="460" y="1370" width="5" height="9"/>
<rect x="595" y="1358" width="5" height="21"/>
<rect x="730" y="1370" width="5" height="9"/>
<rect x="865" y="1358" width="5" height="21"/>
<rect x="1000" y="1370" width="5" height="9"/>
<rect x="1135" y="1358" width="5" height="21"/>
<rect x="1270" y="1370" width="5" height="9"/>
<rect x="1404" y="1358" width="5" height="21"/>
<rect x="1539" y="1370" width="5" height="9"/>
<rect x="1674" y="1358" width="5" height="21"/>
<rect x="1809" y="1370" width="5" height="9"/>
</g>
<text x="167.4" y="1335.4" font-size="67.5" text-anchor="end" textLength="79.2" lengthAdjust="spacingAndGlyphs">0.0</text>
<text x="167.4" y="1089.6" font-size="67.5" text-anchor="end" textLength="79.2" lengthAdjust="spacingAndGlyphs">0.2</text>
<text x="167.4" y="843.8" font-size="67.5" text-anchor="end" textLength="79.2" lengthAdjust="spacingAndGlyphs">0.4</text>
<text x="167.4" y="598.0" font-size="67.5" text-anchor="end" textLength="79.2" lengthAdjust="spacingAndGlyphs">0.6</text>
<text x="167.4" y="352.2" font-size="67.5" text-anchor="end" textLength="79.2" lengthAdjust="spacingAndGlyphs">0.8</text>
<text x="167.4" y="106.4" font-size="67.5" text-anchor="end" textLength="79.2" lengthAdjust="spacingAndGlyphs">1.0</text>
<text x="327.4" y="1453.6" font-size="67.5" text-anchor="middle" textLength="64.2" lengthAdjust="spacingAndGlyphs">40</text>
<text x="597.2" y="1453.6" font-size="67.5" text-anchor="middle" textLength="64.2" lengthAdjust="spacingAndGlyphs">60</text>
<text x="866.9" y="1453.6" font-size="67.5" text-anchor="middle" textLength="64.2" lengthAdjust="spacingAndGlyphs">80</text>
<text x="1136.7" y="1453.6" font-size="67.5" text-anchor="middle" textLength="94.8" lengthAdjust="spacingAndGlyphs">100</text>
<text x="1406.5" y="1453.6" font-size="67.5" text-anchor="middle" textLength="94.8" lengthAdjust="spacingAndGlyphs">120</text>
<text x="1676.2" y="1453.6" font-size="67.5" text-anchor="middle" textLength="94.8" lengthAdjust="spacingAndGlyphs">140</text>
<text x="1946.0" y="1453.6" font-size="67.5" text-anchor="middle" textLength="94.8" lengthAdjust="spacingAndGlyphs">160</text>
<text x="1070.6" y="1587.5" font-size="66.0" text-anchor="middle" textLength="457.5" lengthAdjust="spacingAndGlyphs">Temperature/°C</text>
<text transform="translate(57.0,707.0) rotate(-90) scale(1.1,0.95)" font-size="66" text-anchor="middle" font-style="italic">α</text>
<rect x="301" y="168" width="140" height="2" fill="#444444" shape-rendering="crispEdges"/>
<circle cx="370.5" cy="169.4" r="15.55" fill="url(#g0)" shape-rendering="crispEdges"/>
<text x="452.3" y="188.7" font-size="53.0" textLength="190.5" lengthAdjust="spacingAndGlyphs">1°C/min</text>
<rect x="301" y="244" width="140" height="2" fill="#f03040" shape-rendering="crispEdges"/>
<circle cx="370.5" cy="245.4" r="15.55" fill="url(#g1)" shape-rendering="crispEdges"/>
<text x="452.3" y="264.7" font-size="53.0" textLength="229.3" lengthAdjust="spacingAndGlyphs">1.5°C/min</text>
<rect x="301" y="321" width="140" height="2" fill="#1070e0" shape-rendering="crispEdges"/>
<circle cx="370.5" cy="322.4" r="15.55" fill="url(#g2)" shape-rendering="crispEdges"/>
<text x="452.3" y="341.7" font-size="53.0" textLength="190.5" lengthAdjust="spacingAndGlyphs">2°C/min</text>
<rect x="301" y="397" width="140" height="2" fill="#30b060" shape-rendering="crispEdges"/>
<circle cx="370.5" cy="398.4" r="15.55" fill="url(#g3)" shape-rendering="crispEdges"/>
<text x="452.3" y="417.7" font-size="53.0" textLength="190.5" lengthAdjust="spacingAndGlyphs">3°C/min</text>
<rect x="301" y="473" width="140" height="2" fill="#b07ae0" shape-rendering="crispEdges"/>
<circle cx="370.5" cy="474.3" r="15.55" fill="url(#g4)" shape-rendering="crispEdges"/>
<text x="452.3" y="493.6" font-size="53.0" textLength="190.5" lengthAdjust="spacingAndGlyphs">4°C/min</text>
<rect x="301" y="549" width="140" height="2" fill="#d0a000" shape-rendering="crispEdges"/>
<circle cx="370.5" cy="550.2" r="15.55" fill="url(#g5)" shape-rendering="crispEdges"/>
<text x="452.3" y="569.5" font-size="53.0" textLength="190.5" lengthAdjust="spacingAndGlyphs">5°C/min</text>
</svg></body></html>
